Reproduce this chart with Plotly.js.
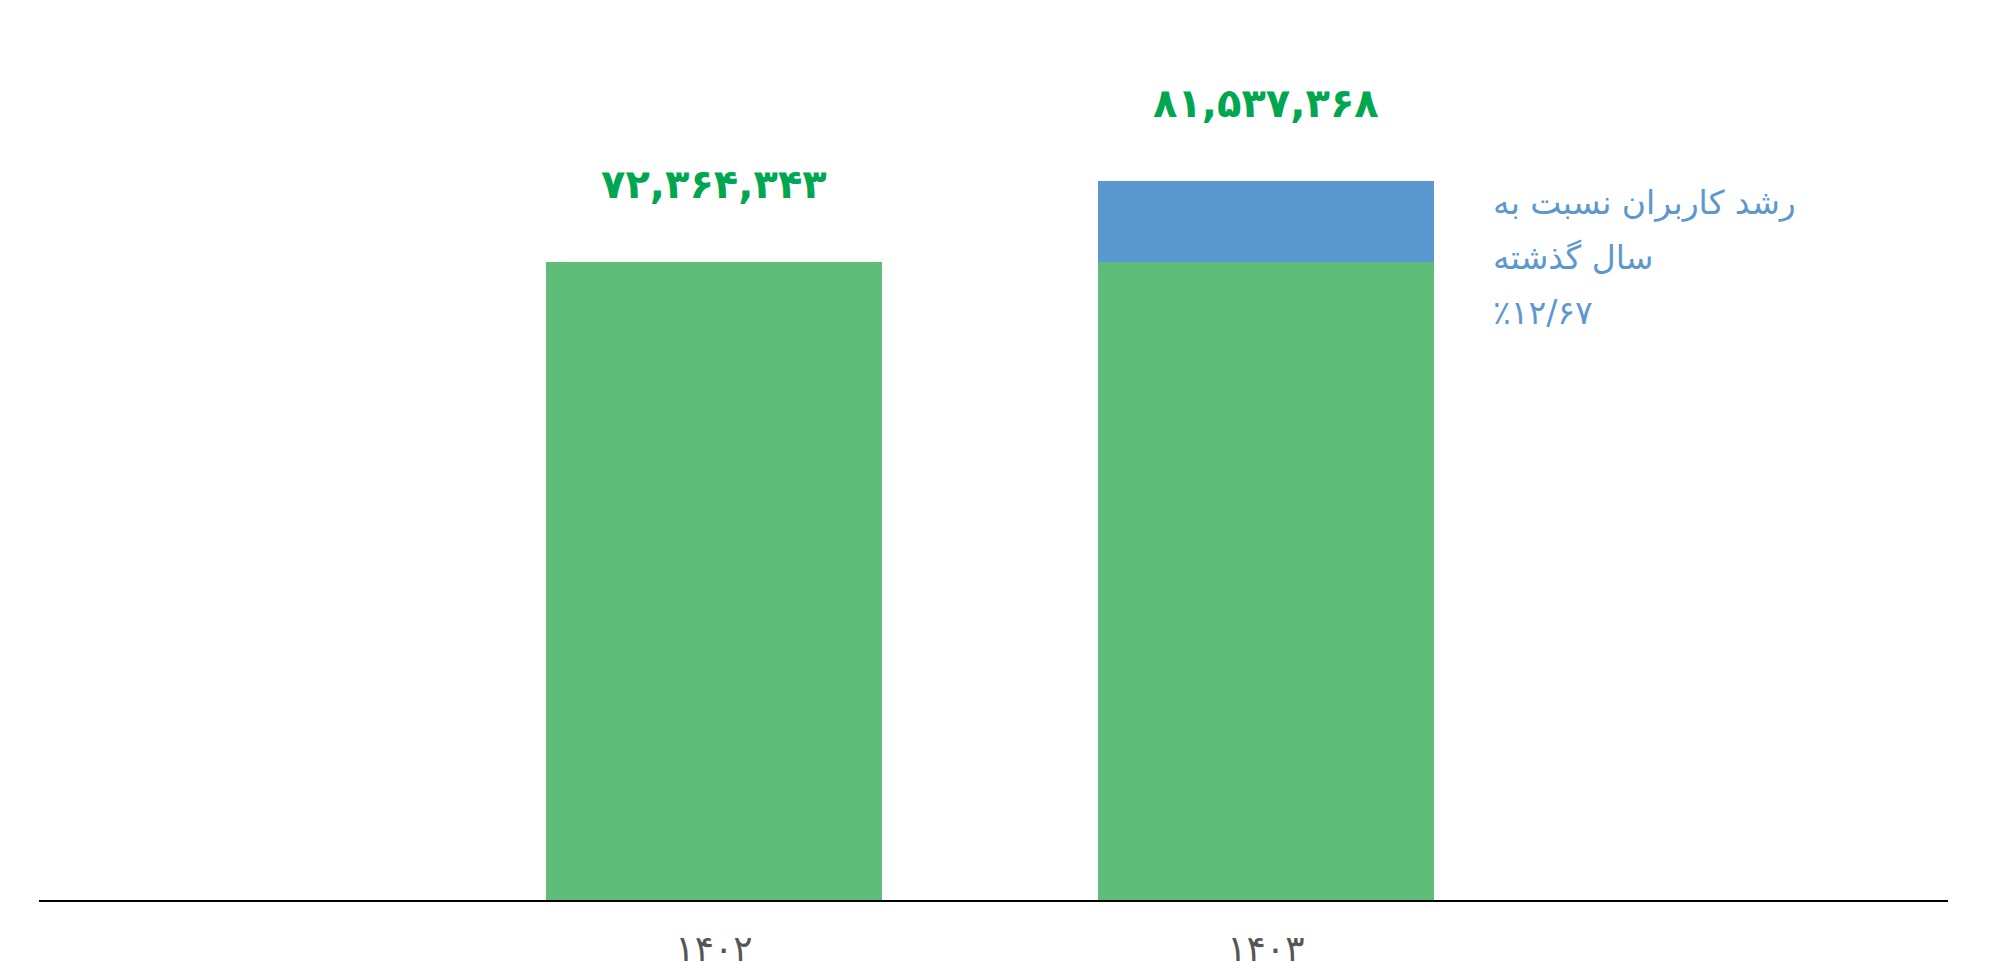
<!DOCTYPE html>
<html><head><meta charset="utf-8">
<script src="https://cdn.plot.ly/plotly-3.0.1.min.js"></script>
<style>html,body{margin:0;padding:0;background:#fff}#chart{width:2016px;height:978px}</style>
</head><body><div id="chart"></div>
<script>
const categories = ["۱۴۰۲", "۱۴۰۳"];
const baseUsers = [72364343, 72364343];
const growthUsers = [0, 9173025];
const totalLabels = ["۷۲,۳۶۴,۳۴۳", "۸۱,۵۳۷,۳۶۸"];
const totals = [72364343, 81537368];
const growthNote = ["رشد کاربران نسبت به", "سال گذشته", "٪۱۲/۶۷"];

const traces = [
  {type:"bar", x:categories, y:baseUsers, marker:{color:"#5FBD7A"}, width:0.61, hoverinfo:"skip"},
  {type:"bar", x:categories, y:growthUsers, marker:{color:"#5B98CF"}, width:0.61, hoverinfo:"skip"}
];
const annotations = totals.map((t,i)=>({
  x:categories[i], y:t, xref:"x", yref:"y", text:"<b>"+totalLabels[i]+"</b>", showarrow:false,
  yanchor:"middle", yshift:78, font:{family:"DejaVu Sans", size:40, color:"#00A650"}
}));
const noteY = [202, 257, 312];
growthNote.forEach((line,i)=>annotations.push({
  xref:"paper", yref:"paper", x:(1491-39)/1909, y:1-(noteY[i]/900), xanchor:"left", yanchor:"middle", align:"left",
  text:line, showarrow:false,
  font:{family:"DejaVu Sans", size:33, color:"#5B98CF"}
}));
const layout = {
  width:2016, height:978, barmode:"stack", showlegend:false,
  paper_bgcolor:"#fff", plot_bgcolor:"#fff",
  margin:{l:39, r:68, t:0, b:78},
  xaxis:{type:"category", range:[-1.223, 2.236], showgrid:false, zeroline:false,
    showline:true, linecolor:"#000", linewidth:2, ticks:"",
    tickfont:{family:"DejaVu Sans", size:36, color:"#555"}, ticklabelstandoff:16, fixedrange:true},
  yaxis:{range:[0, 102080000], visible:false, showgrid:false, zeroline:false, fixedrange:true},
  annotations:annotations
};
Plotly.newPlot("chart", traces, layout, {displayModeBar:false, staticPlot:true});
</script></body></html>
